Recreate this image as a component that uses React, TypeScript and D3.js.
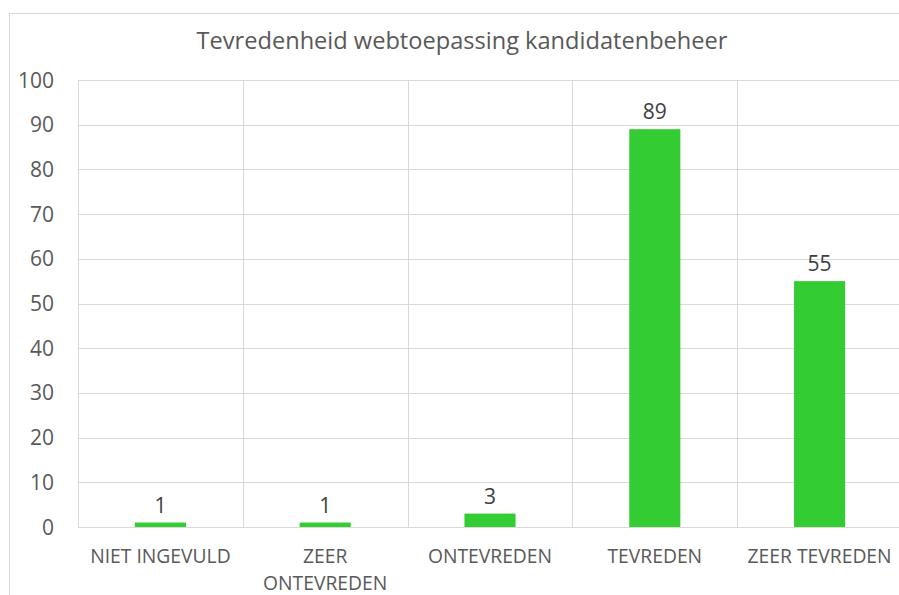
import React from "react";
import * as d3 from "d3";

const title = "Tevredenheid webtoepassing kandidatenbeheer";
const categories = ["NIET INGEVULD", "ZEER ONTEVREDEN", "ONTEVREDEN", "TEVREDEN", "ZEER TEVREDEN"];
const values = [1, 1, 3, 89, 55];
const yTicks = [0, 10, 20, 30, 40, 50, 60, 70, 80, 90, 100];

const W = 899;
const H = 595;
const FONT = "'Open Sans', Lato, sans-serif";
const CAT_FONT_SIZE = 19.3;

function measure(text: string, size: number) {
  const c = document.createElement("canvas").getContext("2d");
  if (!c) return text.length * size * 0.6;
  c.font = `${size}px 'Open Sans'`;
  return c.measureText(text).width;
}

function wrap(text: string, maxW: number): string[] {
  const words = text.split(" ");
  const lines: string[] = [];
  let cur = "";
  for (const w of words) {
    const t = cur ? cur + " " + w : w;
    if (cur && measure(t, CAT_FONT_SIZE) > maxW) {
      lines.push(cur);
      cur = w;
    } else cur = t;
  }
  if (cur) lines.push(cur);
  return lines;
}

export default function App() {
  const left = 78;
  const right = 902;
  const top = 80;
  const bottom = 527;
  const x = d3.scaleBand<string>().domain(categories).range([left, right]).paddingInner(0).paddingOuter(0);
  const y = d3.scaleLinear().domain([0, 100]).range([bottom, top]);
  const bw = x.bandwidth() * 0.31;
  const grid = "#d9d9d9";

  return (
    <svg width={W} height={H} style={{ position: "absolute", left: 0, top: 0, background: "#fff" }} fontFamily={FONT}>
      <rect x={9.5} y={13.5} width={1000} height={700} fill="#fff" stroke={grid} strokeWidth={1} />
      <text x={462} y={49} textAnchor="middle" fontSize={23.6} fill="#595959">{title}</text>
      {yTicks.map((t) => (
        <g key={t}>
          <line x1={left} x2={right} y1={Math.round(y(t)) + 0.5} y2={Math.round(y(t)) + 0.5} stroke={grid} strokeWidth={1} />
          <text x={54} y={y(t) + 7.5} textAnchor="end" fontSize={21} fill="#595959">{t}</text>
        </g>
      ))}
      {categories.map((c, i) => (
        <line key={"v" + i} x1={Math.round(x(c)!) + 0.5} x2={Math.round(x(c)!) + 0.5} y1={top} y2={bottom} stroke={grid} strokeWidth={1} />
      ))}
      {categories.map((c, i) => {
        const cx = x(c)! + x.bandwidth() / 2;
        return (
          <g key={c}>
            <rect x={cx - bw / 2} y={y(values[i])} width={bw} height={y(0) - y(values[i])} fill="#33cc33" />
            <text x={cx} y={y(values[i]) - 10} textAnchor="middle" fontSize={21} fill="#404040">{values[i]}</text>
            {wrap(c, x.bandwidth() - 8).map((ln, j) => (
              <text key={j} x={cx} y={563 + j * 26.5} textAnchor="middle" fontSize={CAT_FONT_SIZE} fill="#595959">{ln}</text>
            ))}
          </g>
        );
      })}
    </svg>
  );
}
